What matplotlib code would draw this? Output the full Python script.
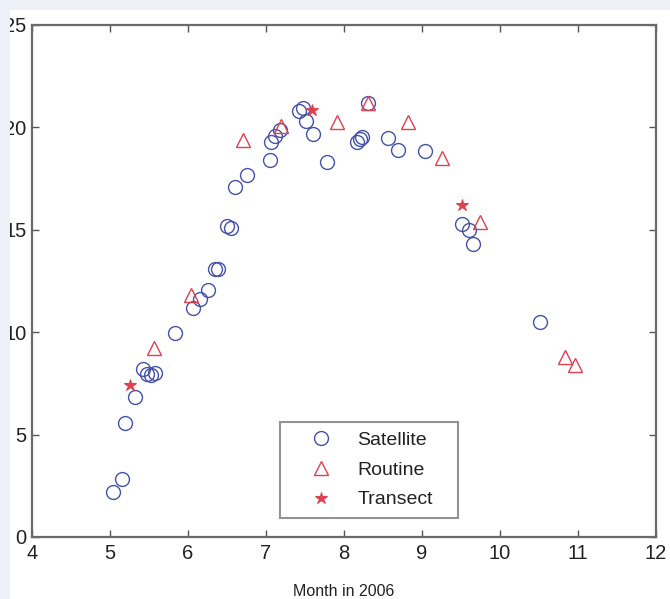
import matplotlib
matplotlib.use("Agg")
import matplotlib.pyplot as plt
from matplotlib.patches import Rectangle

# Satellite observations (month, value)
sat_month = [5.04, 5.15, 5.19, 5.32, 5.42, 5.47, 5.53, 5.58, 5.83, 6.06, 6.15,
             6.26, 6.35, 6.39, 6.50, 6.55, 6.60, 6.76, 7.05, 7.07, 7.12, 7.18,
             7.42, 7.47, 7.51, 7.60, 7.78, 8.17, 8.21, 8.23, 8.31, 8.56, 8.69,
             9.04, 9.51, 9.60, 9.65, 10.51]
sat_value = [2.2, 2.85, 5.57, 6.84, 8.2, 7.95, 7.9, 8.0, 9.96, 11.2, 11.6,
             12.06, 13.1, 13.1, 15.2, 15.1, 17.1, 17.7, 18.4, 19.3, 19.6, 19.85,
             20.8, 20.95, 20.3, 19.7, 18.3, 19.3, 19.45, 19.55, 21.2, 19.5, 18.9,
             18.85, 15.3, 15.0, 14.3, 10.5]

# Routine sampling
rout_month = [5.56, 6.04, 6.71, 7.19, 7.91, 8.31, 8.82, 9.26, 9.74, 10.83, 10.96]
rout_value = [9.23, 11.8, 19.38, 20.07, 20.26, 21.2, 20.26, 18.5, 15.38, 8.8, 8.4]

# Transect sampling
tran_month = [5.26, 7.59, 9.51]
tran_value = [7.42, 20.85, 16.2]

x_ticks = [4, 5, 6, 7, 8, 9, 10, 11, 12]
y_ticks = [0, 5, 10, 15, 20, 25]

W, H = 670, 599
fig = plt.figure(figsize=(W / 100, H / 100), dpi=100)
fig.patch.set_facecolor("white")
plt.rcParams["font.family"] = ["Liberation Sans", "DejaVu Sans"]

ax = fig.add_axes([32 / W, 1 - 537 / H, (656 - 32) / W, (537 - 25) / H])

blue = "#4352a8"
red = "#e0404f"
ax.plot(sat_month, sat_value, linestyle="none", marker="o", markersize=10,
        markerfacecolor="none", markeredgecolor=blue, markeredgewidth=1.0,
        label="Satellite")
ax.plot(rout_month, rout_value, linestyle="none", marker="^", markersize=10,
        markerfacecolor="none", markeredgecolor=red, markeredgewidth=1.0,
        label="Routine")
ax.plot(tran_month, tran_value, linestyle="none", marker="*", markersize=9,
        color=red, markeredgewidth=0.8, label="Transect")

ax.set_xlim(4, 12)
ax.set_ylim(0, 25)
ax.set_xticks(x_ticks)
ax.set_yticks(y_ticks)
ax.tick_params(direction="in", length=5, width=1.0, color="#555555",
               top=True, right=True, labelsize=14.5, labelcolor="#222222")
ax.tick_params(axis="x", pad=5)
ax.tick_params(axis="y", pad=4)
for sp in ax.spines.values():
    sp.set_color("#6a6a6a")
    sp.set_linewidth(1.6)

ax.set_xlabel("Month in 2006", fontsize=11.5, va="center", color="#222222")
ax.xaxis.set_label_coords(0.5, -0.1055)

leg = ax.legend(loc="lower left", bbox_to_anchor=(0.397, 0.037, 0.286, 0.19),
                mode="expand", borderaxespad=0, fontsize=14, handlelength=3.2,
                handletextpad=0.3, labelspacing=0.62, borderpad=0.5,
                fancybox=False, frameon=True, numpoints=1)
leg.get_frame().set_edgecolor("#777777")
leg.get_frame().set_linewidth(1.5)
for t in leg.get_texts():
    t.set_color("#222222")

# page margin strips along the top and left edges
bg = "#eef0f7"
fig.patches.append(Rectangle((0, 0), 10 / W, 1, transform=fig.transFigure,
                             facecolor=bg, edgecolor="none", zorder=10))
fig.patches.append(Rectangle((0, 1 - 10 / H), 1, 10 / H, transform=fig.transFigure,
                             facecolor=bg, edgecolor="none", zorder=10))

fig.savefig("out.png", dpi=100, facecolor=fig.get_facecolor())
